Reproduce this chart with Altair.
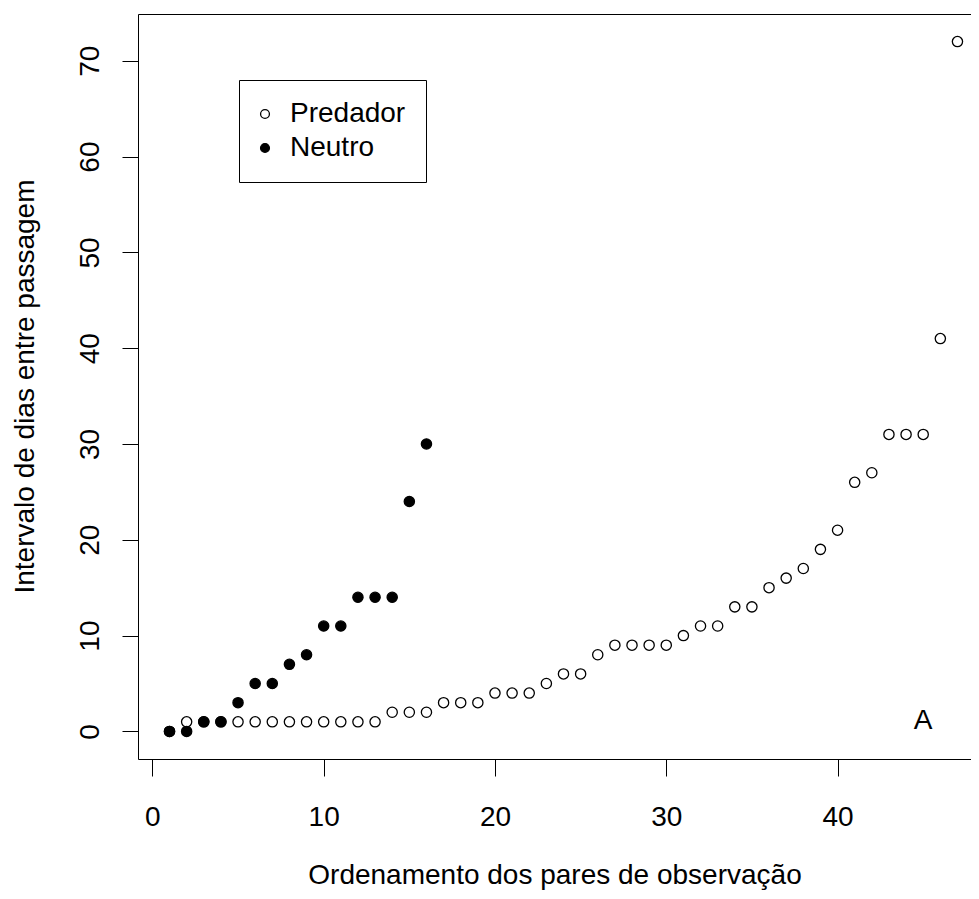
import altair as alt
import pandas as pd

FONT = "Liberation Sans"

# ---- data ----
predador_x = list(range(1, 48))
predador_y = [0, 1, 1, 1, 1, 1, 1, 1, 1, 1, 1, 1, 1, 2, 2, 2, 3, 3, 3, 4,
              4, 4, 5, 6, 6, 8, 9, 9, 9, 9, 10, 11, 11, 13, 13, 15, 16, 17,
              19, 21, 26, 27, 31, 31, 31, 41, 72]
neutro_x = list(range(1, 17))
neutro_y = [0, 0, 1, 1, 3, 5, 5, 7, 8, 11, 11, 14, 14, 14, 24, 30]

groups = ["Predador", "Neutro"]
x_ticks = [0, 10, 20, 30, 40]
y_ticks = [0, 10, 20, 30, 40, 50, 60, 70]

label_x = [45]
label_y = [1]
label_text = ["A"]

x_title = "Ordenamento dos pares de observação"
y_title = "Intervalo de dias entre passagem"

df = pd.DataFrame({
    "x": predador_x + neutro_x,
    "y": predador_y + neutro_y,
    "grupo": [groups[0]] * len(predador_x) + [groups[1]] * len(neutro_x),
    "ordem": [0] * len(predador_x) + [1] * len(neutro_x),
})
ann_df = pd.DataFrame({"x": label_x, "y": label_y, "t": label_text})

xscale = alt.Scale(domain=[-0.84, 47.79], nice=False, zero=False)
yscale = alt.Scale(domain=[-2.88, 74.88], nice=False, zero=False)

x_axis = alt.Axis(
    values=x_ticks, title=x_title, grid=False,
    domain=True, domainColor="black", domainWidth=1,
    ticks=True, tickColor="black", tickWidth=1, tickSize=17,
    labelFont=FONT, labelFontSize=28, labelColor="black",
    labelAngle=0, labelBaseline="alphabetic", labelPadding=49,
    labelFlush=False, labelOverlap=False,
    titleFont=FONT, titleFontSize=28, titleFontWeight="normal",
    titleColor="black", titleBaseline="alphabetic", titleY=124,
)
y_axis = alt.Axis(
    values=y_ticks, title=y_title, grid=False,
    domain=True, domainColor="black", domainWidth=1,
    ticks=True, tickColor="black", tickWidth=1, tickSize=16,
    labelFont=FONT, labelFontSize=28, labelColor="black",
    labelAngle=270, labelAlign="center", labelBaseline="alphabetic",
    labelPadding=24, labelFlush=False, labelOverlap=False,
    titleFont=FONT, titleFontSize=28, titleFontWeight="normal",
    titleColor="black", titleAngle=270, titleAlign="center",
    titleBaseline="alphabetic", titleX=-105, titleY=372,
)

points = alt.Chart(df).mark_point(
    shape="circle", filled=True, size=105, stroke="black",
    strokeWidth=1.3, opacity=1,
).encode(
    x=alt.X("x:Q", scale=xscale, axis=x_axis),
    y=alt.Y("y:Q", scale=yscale, axis=y_axis),
    fill=alt.Fill(
        "grupo:N",
        scale=alt.Scale(domain=groups, range=["white", "black"]),
        legend=alt.Legend(
            title=None, orient="none", legendX=101, legendY=66,
            strokeColor="black", fillColor="white",
            padding=20, cornerRadius=0, rowPadding=6,
            labelFont=FONT, labelFontSize=28, labelColor="black",
            labelOffset=11, symbolType="circle", symbolSize=78,
            symbolStrokeColor="black", symbolStrokeWidth=1.3,
            symbolOffset=-8,
        ),
    ),
    order=alt.Order("ordem:Q"),
)

ann = alt.Chart(ann_df).mark_text(
    font=FONT, fontSize=28, color="black", align="center",
    baseline="middle", dy=-1,
).encode(
    x=alt.X("x:Q", scale=xscale, axis=None),
    y=alt.Y("y:Q", scale=yscale, axis=y_axis),
    text="t:N",
)

top_frame = alt.Chart(df).mark_point(opacity=0).encode(
    x=alt.X("x:Q", scale=xscale, axis=alt.Axis(
        orient="top", labels=False, ticks=False, title=None, grid=False,
        domain=True, domainColor="black", domainWidth=1)),
)

chart = alt.layer(points, ann, top_frame).resolve_axis(
    x="independent"
).properties(
    width=833, height=745,
    autosize=alt.AutoSizeParams(type="none"),
    padding={"left": 130, "top": 6, "right": 0, "bottom": 132},
    background="white",
).configure_view(stroke=None)

chart.save("out.html", embed_options={"renderer": "svg", "actions": False})
